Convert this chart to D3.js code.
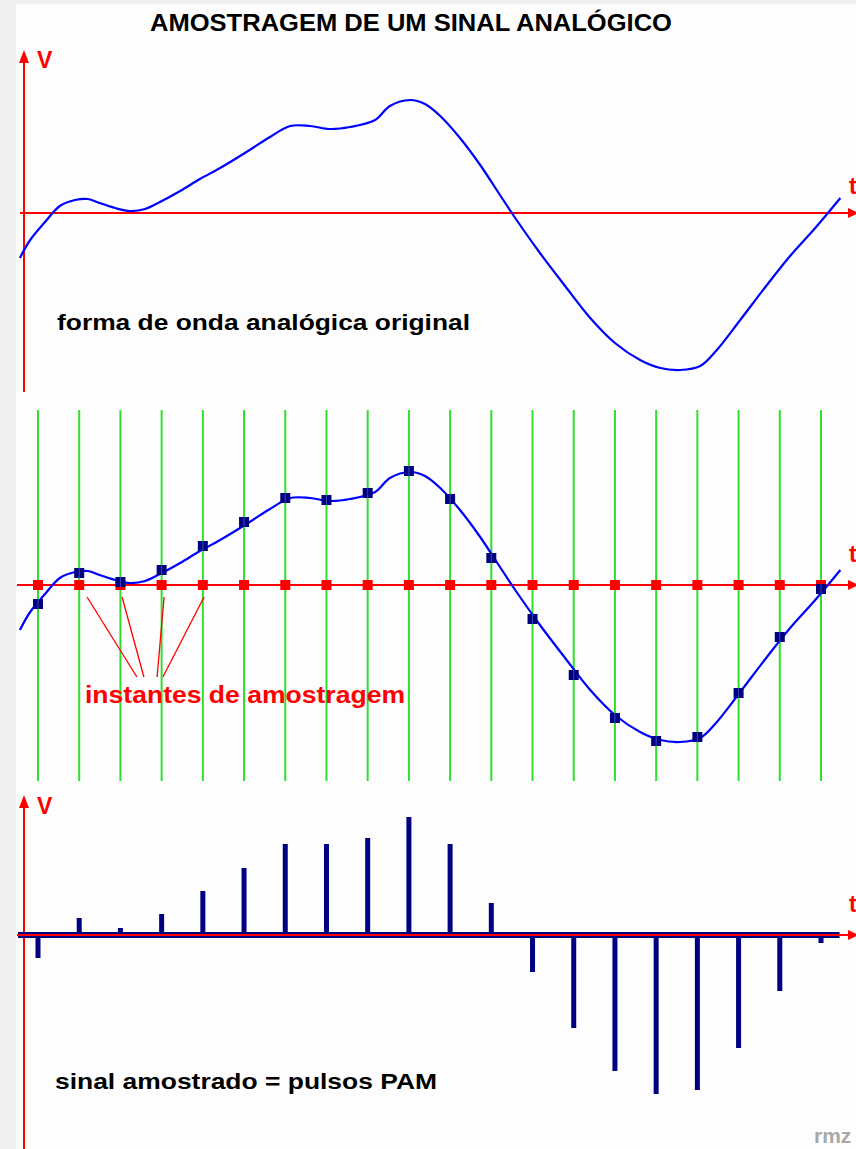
<!DOCTYPE html>
<html><head><meta charset="utf-8">
<script src="https://cdn.jsdelivr.net/npm/d3@7"></script>
<style>
html,body{margin:0;padding:0;background:#f0f0f0;}
svg{display:block;}
text{font-family:"Liberation Sans",Arial,sans-serif;font-weight:bold;}
</style></head>
<body>
<script>
// ---- data ----
const title = "AMOSTRAGEM DE UM SINAL ANALÓGICO";
const labelTop = "forma de onda analógica original";
const labelMid = "instantes de amostragem";
const labelBottom = "sinal amostrado = pulsos PAM";
const axisV = "V";
const axisT = "t";
const credit = "rmz";

// analog waveform: time in sample periods, amplitude (arbitrary units)
const curveTime = [-0.44,-0.19,0.17,0.53,0.90,1.21,1.50,1.87,2.23,2.60,2.96,3.45,3.93,4.42,5.02,5.63,6.12,6.60,7.09,7.57,8.18,8.54,9.03,9.39,9.76,10.24,10.73,11.21,11.58,12.18,12.79,13.40,14.00,14.61,15.10,15.58,16.07,16.43,17.04,17.65,18.25,18.86,19.47];
const curveValue = [-0.45,-0.27,-0.09,0.07,0.13,0.14,0.10,0.05,0.02,0.04,0.11,0.22,0.34,0.45,0.60,0.76,0.87,0.87,0.84,0.86,0.93,1.07,1.13,1.09,0.97,0.75,0.48,0.18,-0.05,-0.40,-0.73,-1.05,-1.30,-1.47,-1.55,-1.57,-1.53,-1.39,-1.07,-0.74,-0.43,-0.15,0.15];

// sampling instants (sample index) and sampled values
const sampleIndex = [0,1,2,3,4,5,6,7,8,9,10,11,12,13,14,15,16,17,18,19];
const sampleValue = [-0.19,0.12,0.03,0.15,0.39,0.63,0.87,0.85,0.92,1.14,0.86,0.27,-0.34,-0.90,-1.33,-1.56,-1.52,-1.08,-0.52,-0.04];
// PAM pulse amplitudes
const pulseValue = [-0.23,0.17,0.07,0.21,0.44,0.67,0.91,0.91,0.97,1.18,0.91,0.32,-0.37,-0.93,-1.36,-1.59,-1.55,-1.13,-0.56,-0.08];

// annotation leaders (in sample-period units)
const leaderStart = [1.19,2.04,3.06,4.03];
const leaderEnd = [2.40,2.57,2.89,3.03];

// ---- drawing ----
const W = 856, H = 1149;
const svg = d3.select("body").append("svg").attr("width", W).attr("height", H);
svg.append("rect").attr("x",16).attr("y",4).attr("width",W-16).attr("height",H-4).attr("fill","#fdfdfd");

const x = d3.scaleLinear().domain([0,19]).range([38,821]);
const yTop = d3.scaleLinear().domain([-1,1]).range([313,113]);
const yMid = d3.scaleLinear().domain([-1,1]).range([685,485]);
const yBot = d3.scaleLinear().domain([-1,1]).range([1035,835]);

const RED = "#ff0000", BLUE = "#0000ff", NAVY = "#000080", GREEN = "#2ee02e";
const curveData = curveTime.map((t,i)=>({t, v: curveValue[i]}));

function arrowUp(xp, yp){
  svg.append("path").attr("d", `M${xp},${yp} L${xp-5},${yp+13} L${xp+5},${yp+13} Z`).attr("fill", RED);
}
function arrowRight(xp, yp){
  svg.append("path").attr("d", `M${xp},${yp} L${xp-11},${yp-5} L${xp-11},${yp+5} Z`).attr("fill", RED);
}

// title
svg.append("text").attr("x",150).attr("y",31).attr("font-size",23)
  .attr("textLength",522).attr("lengthAdjust","spacingAndGlyphs").attr("fill","#000").text(title);

// ---------- top panel ----------
svg.append("line").attr("x1",24).attr("x2",24).attr("y1",56).attr("y2",392).attr("stroke",RED).attr("stroke-width",2);
arrowUp(24,50);
svg.append("text").attr("x",37).attr("y",68).attr("font-size",23).attr("fill",RED).text(axisV);
svg.append("line").attr("x1",20).attr("x2",852).attr("y1",yTop(0)).attr("y2",yTop(0)).attr("stroke",RED).attr("stroke-width",2);
arrowRight(859,yTop(0));
svg.append("text").attr("x",849).attr("y",194).attr("font-size",23).attr("fill",RED).text(axisT);

const lineTop = d3.line().x(d=>x(d.t)).y(d=>yTop(d.v)).curve(d3.curveCatmullRom.alpha(0.5));
svg.append("path").datum(curveData).attr("d",lineTop).attr("fill","none").attr("stroke",BLUE).attr("stroke-width",2.2);

svg.append("text").attr("x",57).attr("y",330).attr("font-size",22)
  .attr("textLength",413).attr("lengthAdjust","spacingAndGlyphs").attr("fill","#000").text(labelTop);

// ---------- middle panel ----------
svg.selectAll(".grid").data(sampleIndex).join("line")
  .attr("x1",d=>x(d)).attr("x2",d=>x(d)).attr("y1",410).attr("y2",781)
  .attr("stroke",GREEN).attr("stroke-width",2);
svg.append("line").attr("x1",17).attr("x2",852).attr("y1",yMid(0)).attr("y2",yMid(0)).attr("stroke",RED).attr("stroke-width",2);
arrowRight(859,yMid(0));
svg.append("text").attr("x",849).attr("y",562).attr("font-size",23).attr("fill",RED).text(axisT);

const lineMid = d3.line().x(d=>x(d.t)).y(d=>yMid(d.v)).curve(d3.curveCatmullRom.alpha(0.5));
svg.append("path").datum(curveData).attr("d",lineMid).attr("fill","none").attr("stroke",BLUE).attr("stroke-width",2.2);

svg.selectAll(".inst").data(sampleIndex).join("rect")
  .attr("x",d=>x(d)-5).attr("y",yMid(0)-5).attr("width",10).attr("height",10).attr("fill",RED);

const samples = sampleIndex.map((s,i)=>({s, v: sampleValue[i]}));
svg.selectAll(".smp").data(samples).join("rect")
  .attr("x",d=>x(d.s)-5).attr("y",d=>yMid(d.v)-5).attr("width",10).attr("height",10).attr("fill",NAVY);
svg.selectAll(".smpc").data(samples).join("line")
  .attr("x1",d=>x(d.s)).attr("x2",d=>x(d.s)).attr("y1",d=>yMid(d.v)-5).attr("y2",d=>yMid(d.v)+5)
  .attr("stroke","#3848b8").attr("stroke-width",1);

// annotation leaders
leaderStart.forEach((s,i)=>{
  svg.append("line").attr("x1",x(s)).attr("y1",yMid(0)+12).attr("x2",x(leaderEnd[i])).attr("y2",yMid(0)+92)
    .attr("stroke",RED).attr("stroke-width",1.3);
});
svg.append("text").attr("x",85).attr("y",703).attr("font-size",23)
  .attr("textLength",320).attr("lengthAdjust","spacingAndGlyphs").attr("fill",RED).text(labelMid);

// ---------- bottom panel ----------
svg.append("line").attr("x1",24).attr("x2",24).attr("y1",800).attr("y2",H).attr("stroke",RED).attr("stroke-width",2);
arrowUp(24,795);
svg.append("text").attr("x",37).attr("y",814).attr("font-size",23).attr("fill",RED).text(axisV);

const pulses = sampleIndex.map((s,i)=>({s, v: pulseValue[i]}));
svg.selectAll(".pulse").data(pulses).join("rect")
  .attr("x",d=>x(d.s)-2.5).attr("width",5)
  .attr("y",d=>Math.min(yBot(d.v), yBot(0)))
  .attr("height",d=>Math.abs(yBot(d.v)-yBot(0)))
  .attr("fill",NAVY);
svg.append("rect").attr("x",18).attr("y",yBot(0)-3).attr("width",x(19.45)-18).attr("height",6).attr("fill",NAVY);
svg.append("line").attr("x1",17).attr("x2",852).attr("y1",yBot(0)).attr("y2",yBot(0)).attr("stroke",RED).attr("stroke-width",2);
arrowRight(859,yBot(0));
svg.append("text").attr("x",849).attr("y",912).attr("font-size",23).attr("fill",RED).text(axisT);

svg.append("text").attr("x",55).attr("y",1089).attr("font-size",22)
  .attr("textLength",382).attr("lengthAdjust","spacingAndGlyphs").attr("fill","#000").text(labelBottom);

svg.append("text").attr("x",814).attr("y",1143).attr("font-size",21).attr("fill","#a8a8a8").text(credit);
</script>
</body></html>
